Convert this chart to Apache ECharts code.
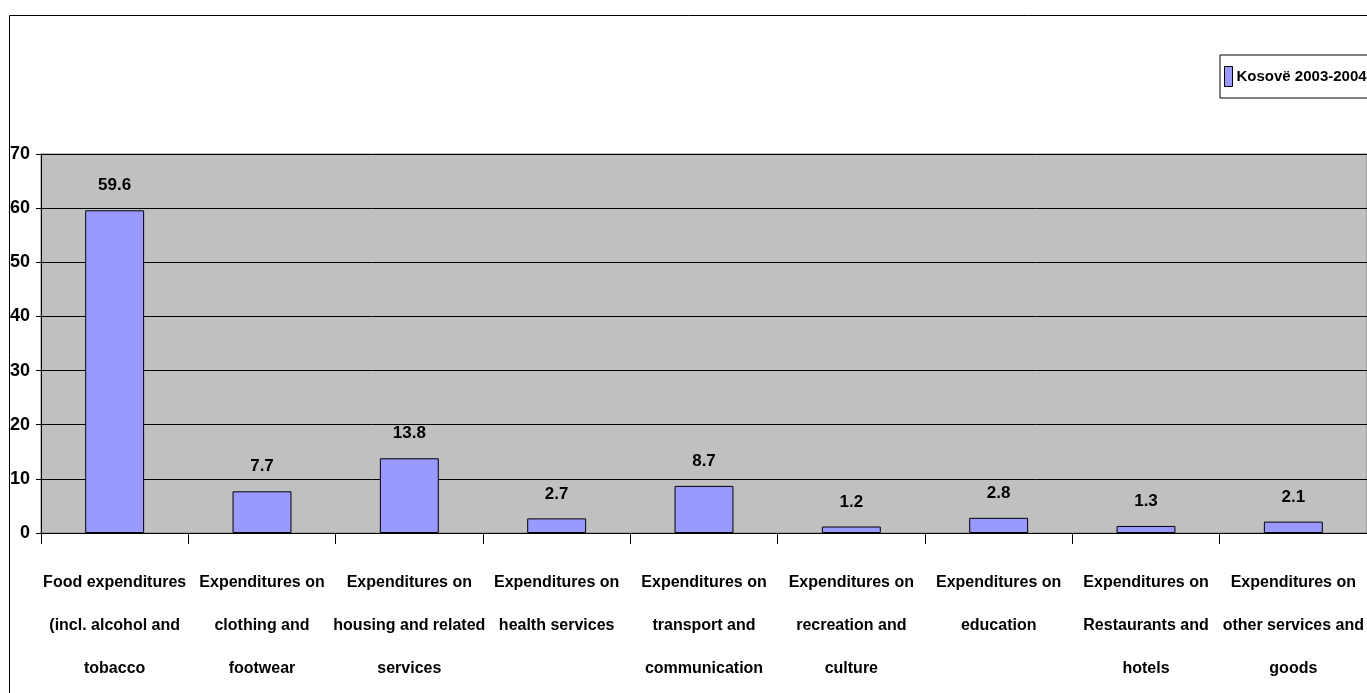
<!DOCTYPE html>
<html>
<head>
<meta charset="utf-8">
<script src="https://cdn.jsdelivr.net/npm/echarts@6/dist/echarts.min.js"></script>
<style>
html,body{margin:0;padding:0;background:#fff;overflow:hidden;}
#c{width:1367px;height:693px;}
</style>
</head>
<body>
<div id="c"></div>
<script>
const categories = [
  "Food expenditures\n(incl. alcohol and\ntobacco",
  "Expenditures on\nclothing and\nfootwear",
  "Expenditures on\nhousing and related\nservices",
  "Expenditures on\nhealth services",
  "Expenditures on\ntransport and\ncommunication",
  "Expenditures on\nrecreation and\nculture",
  "Expenditures on\neducation",
  "Expenditures on\nRestaurants and\nhotels",
  "Expenditures on\nother services and\ngoods"
];
const seriesName = "Kosovë 2003-2004";
const values = [59.6, 7.7, 13.8, 2.7, 8.7, 1.2, 2.8, 1.3, 2.1];
const yTicks = [0, 10, 20, 30, 40, 50, 60, 70];

const FONT = "'Liberation Sans Narrow', 'Arial Narrow', 'Liberation Sans', Arial, sans-serif";
const chart = echarts.init(document.getElementById('c'), null, {renderer: 'canvas'});
chart.setOption({
  animation: false,
  backgroundColor: '#ffffff',
  textStyle: {fontFamily: FONT},
  graphic: [{
    type: 'rect',
    shape: {x: 9.5, y: 15.5, width: 1400, height: 720},
    style: {fill: 'none', stroke: '#000000', lineWidth: 1},
    z: 100
  }],
  legend: {
    data: [seriesName],
    left: 1220,
    top: 55,
    padding: [11, 20, 11, 4],
    itemGap: 4,
    itemWidth: 8,
    itemHeight: 20,
    borderColor: '#000000',
    borderWidth: 1,
    backgroundColor: '#ffffff',
    icon: 'rect',
    textStyle: {fontFamily: FONT, fontWeight: 'bold', fontSize: 15, color: '#000', padding: [0, 0, 0, -1]},
    itemStyle: {borderColor: '#000', borderWidth: 1}
  },
  grid: {
    left: 41, top: 154, right: 0, bottom: 160,
    show: true, backgroundColor: '#C0C0C0', borderColor: '#808080', borderWidth: 1,
    containLabel: false,
    outerBoundsMode: 'none'
  },
  xAxis: {
    type: 'category',
    data: categories,
    axisLine: {lineStyle: {color: '#000', width: 1}},
    axisTick: {show: true, length: 11, lineStyle: {color: '#000'}},
    axisLabel: {
      interval: 0, margin: 28, fontFamily: FONT, fontWeight: 'bold', fontSize: 16,
      color: '#000', lineHeight: 43, align: 'center', hideOverlap: false
    }
  },
  yAxis: {
    type: 'value',
    min: 0, max: 70, interval: 10,
    axisLine: {show: true, lineStyle: {color: '#000', width: 1}},
    axisTick: {show: true, length: 5, lineStyle: {color: '#000'}},
    splitLine: {show: true, lineStyle: {color: '#000', width: 1}},
    axisLabel: {
      margin: 11, fontFamily: FONT, fontWeight: 'bold', fontSize: 18, color: '#000',
      formatter: function (v) { return yTicks.indexOf(v) >= 0 ? String(v) : ''; }
    }
  },
  series: [{
    name: seriesName,
    type: 'bar',
    data: values,
    barWidth: '40%',
    itemStyle: {color: '#9999FF', borderColor: '#000', borderWidth: 1},
    label: {
      show: true, position: 'top', distance: 16,
      fontFamily: FONT, fontWeight: 'bold', fontSize: 17, color: '#000',
      formatter: function (p) { return p.value.toFixed(1); }
    }
  }]
});
</script>
</body>
</html>
